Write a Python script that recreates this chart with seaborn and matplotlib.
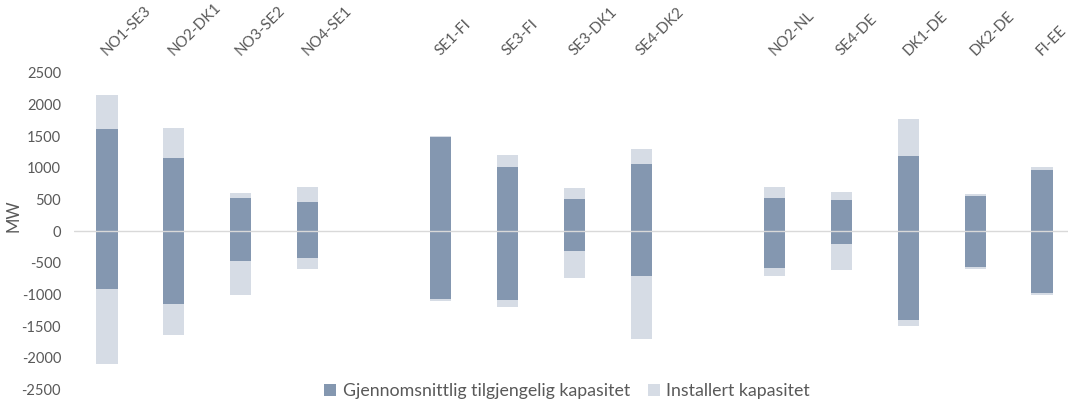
import matplotlib
matplotlib.use("Agg")
import matplotlib.pyplot as plt
from matplotlib.patches import Patch
import seaborn as sns
import pandas as pd

# Interconnectors, grouped in three blocks
categories = ["NO1-SE3", "NO2-DK1", "NO3-SE2", "NO4-SE1",
              "SE1-FI", "SE3-FI", "SE3-DK1", "SE4-DK2",
              "NO2-NL", "SE4-DE", "DK1-DE", "DK2-DE", "FI-EE"]
installed_export = [2150, 1630, 600, 700, 1500, 1200, 680, 1300, 700, 615, 1780, 585, 1015]
installed_import = [-2100, -1640, -1000, -600, -1100, -1200, -740, -1700, -700, -615, -1500, -600, -1000]
available_export = [1620, 1150, 525, 465, 1490, 1020, 515, 1065, 530, 500, 1190, 550, 970]
available_import = [-910, -1150, -470, -415, -1070, -1090, -305, -710, -575, -205, -1395, -570, -970]

legend_labels = ["Gjennomsnittlig tilgjengelig kapasitet", "Installert kapasitet"]
y_label = "MW"
y_ticks = [2500, 2000, 1500, 1000, 500, 0, -500, -1000, -1500, -2000, -2500]

# Empty slots separate the three groups of connections
order = categories[:4] + [" "] + categories[4:8] + ["  "] + categories[8:]
tick_labels = [c.strip() for c in order]

df = pd.DataFrame({
    "forbindelse": categories,
    "inst_exp": installed_export,
    "inst_imp": installed_import,
    "avail_exp": available_export,
    "avail_imp": available_import,
})

DARK = "#8497B0"
LIGHT = "#D6DCE5"
TEXT = "#595959"

sns.set_theme(style="white")
plt.rcParams["font.family"] = ["Lato", "DejaVu Sans"]

fig = plt.figure(figsize=(10.68, 4.03), dpi=100)
ax = fig.add_axes([73.6 / 1068, (403 - 389.5) / 403, 1001.8 / 1068, (389.5 - 73) / 403])

bw = 0.315
for col, color in [("inst_exp", LIGHT), ("inst_imp", LIGHT),
                   ("avail_exp", DARK), ("avail_imp", DARK)]:
    sns.barplot(data=df, x="forbindelse", y=col, order=order, color=color,
                width=bw, saturation=1, linewidth=0, ax=ax, errorbar=None)

ax.axhline(0, color="#D9D9D9", lw=1, zorder=5)

ax.set_ylim(-2500, 2500)
ax.set_xlim(-0.5, len(order) - 0.5)
ax.set_yticks(y_ticks)
ax.set_yticklabels([str(v) for v in y_ticks], color=TEXT, fontsize=10.5)
ax.tick_params(axis="y", length=0, pad=9)

ax.xaxis.set_ticks_position("top")
ax.set_xticks(range(len(order)))
ax.set_xticklabels(tick_labels, rotation=45, ha="left", va="baseline",
                   rotation_mode="anchor", color=TEXT, fontsize=10.8)
ax.tick_params(axis="x", length=0, pad=12)
ax.set_xlabel("")
ax.set_ylabel(y_label, color=TEXT, fontsize=12)
ax.yaxis.set_label_coords(-0.052, 0.55)

for s in ax.spines.values():
    s.set_visible(False)

handles = [Patch(facecolor=DARK, edgecolor="none"), Patch(facecolor=LIGHT, edgecolor="none")]
fig.legend(handles, legend_labels, loc="center", bbox_to_anchor=(567 / 1068, 1 - 391 / 403),
           ncol=2, frameon=False, fontsize=12.8, labelcolor=TEXT,
           handlelength=0.7, handleheight=0.7, handletextpad=0.35, columnspacing=1.0)

fig.savefig("out.png", dpi=100)
